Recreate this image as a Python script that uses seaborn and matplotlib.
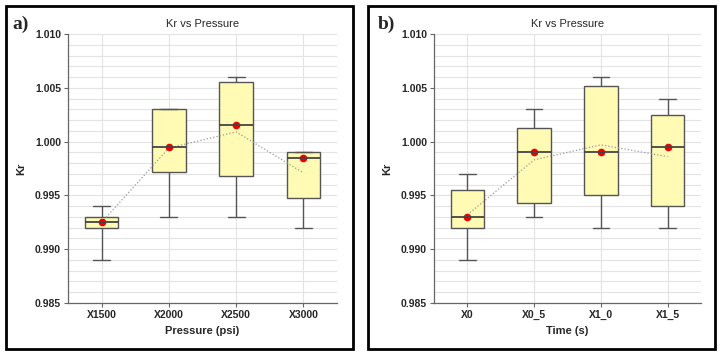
import pandas as pd
import seaborn as sns
import matplotlib.pyplot as plt
from matplotlib.patches import Rectangle

# Panel a) - pressure
pressure_cats = ['X1500', 'X2000', 'X2500', 'X3000']
pressure_lo = [0.989, 0.993, 0.993, 0.992]
pressure_q1 = [0.992, 0.9972, 0.9968, 0.9948]
pressure_med = [0.9925, 0.9995, 1.0015, 0.9985]
pressure_q3 = [0.993, 1.003, 1.0055, 0.999]
pressure_hi = [0.994, 1.003, 1.006, 0.999]
pressure_mean = [0.9925, 0.9994, 1.0009, 0.9971]

# Panel b) - time
time_cats = ['X0', 'X0_5', 'X1_0', 'X1_5']
time_lo = [0.989, 0.993, 0.992, 0.992]
time_q1 = [0.992, 0.9943, 0.995, 0.994]
time_med = [0.993, 0.999, 0.999, 0.9995]
time_q3 = [0.9955, 1.0013, 1.0052, 1.0025]
time_hi = [0.997, 1.003, 1.006, 1.004]
time_mean = [0.9932, 0.9983, 0.9997, 0.9986]

sns.set_style('white')
plt.rcParams['font.family'] = ['Liberation Sans', 'DejaVu Sans']

fig = plt.figure(figsize=(7.22, 3.55), dpi=100)


def five_num_frame(cats, lo, q1, med, q3, hi):
    # five-number summary per group; whis=(0, 100) maps them back exactly
    rows = []
    for i, c in enumerate(cats):
        for v in (lo[i], q1[i], med[i], q3[i], hi[i]):
            rows.append({'cat': c, 'Kr': v})
    return pd.DataFrame(rows)


def draw_panel(ax, cats, lo, q1, med, q3, hi, mean, xlabel, tag, tag_x):
    df = five_num_frame(cats, lo, q1, med, q3, hi)
    sns.boxplot(data=df, x='cat', y='Kr', order=cats, whis=(0, 100), width=0.5,
                color='#fffbb4', linecolor='#555555', linewidth=1.0,
                fliersize=0, saturation=1, ax=ax,
                capprops={'color': '#555555'}, medianprops={'color': '#444444', 'linewidth': 1.3})
    # means: dotted line, medians: red dots
    sns.pointplot(x=cats, y=mean, order=cats, color='#999999', linestyle=':',
                  linewidth=0.9, marker='', errorbar=None, ax=ax)
    sns.pointplot(x=cats, y=med, order=cats, color='#ee0000', linestyle='none',
                  marker='o', markersize=5.5, markeredgewidth=0,
                  markerfacecolor='#ee0000', errorbar=None, ax=ax)

    ax.set_ylim(0.985, 1.010)
    ax.set_xlim(-0.5, len(cats) - 0.5)
    ax.set_yticks([0.985, 0.990, 0.995, 1.000, 1.005, 1.010])
    ax.set_yticks([0.985 + 0.001 * k for k in range(26)], minor=True)
    ax.yaxis.set_major_formatter(plt.FormatStrFormatter('%.3f'))
    ax.grid(True, axis='y', which='both', color='#e3e3e3', linewidth=0.8)
    ax.grid(True, axis='x', which='major', color='#e3e3e3', linewidth=0.8)
    ax.set_axisbelow(True)
    for s in ('top', 'right'):
        ax.spines[s].set_visible(False)
    for s in ('left', 'bottom'):
        ax.spines[s].set_color('#666666')
        ax.spines[s].set_linewidth(0.9)
    ax.tick_params(axis='both', which='major', length=3, width=0.8, color='#666666',
                   labelsize=7.5, pad=2, bottom=True, left=True)
    ax.tick_params(axis='y', which='minor', length=0)
    for lab in ax.get_xticklabels() + ax.get_yticklabels():
        lab.set_fontweight('bold')
    ax.set_xlabel(xlabel, fontsize=8, fontweight='bold', labelpad=4)
    ax.set_ylabel('Kr', fontsize=8, fontweight='bold', labelpad=6)
    ax.set_title('Kr vs Pressure', fontsize=8, fontweight='medium', pad=5)
    fig.text(tag_x, 1 - 24 / 355, tag, fontsize=14, fontweight='bold',
             family='Liberation Serif', va='center', ha='left')


ax1 = fig.add_axes([68 / 722, 1 - 303 / 355, 269 / 722, 269 / 355])
ax2 = fig.add_axes([434 / 722, 1 - 303 / 355, 267 / 722, 269 / 355])

draw_panel(ax1, pressure_cats, pressure_lo, pressure_q1, pressure_med, pressure_q3,
           pressure_hi, pressure_mean, 'Pressure (psi)', 'a)', 12 / 722)
draw_panel(ax2, time_cats, time_lo, time_q1, time_med, time_q3,
           time_hi, time_mean, 'Time (s)', 'b)', 378 / 722)

# panel frames
for x0 in (6, 368):
    fig.patches.append(Rectangle((x0 / 722, 6 / 355), 347 / 722, 343 / 355,
                                 transform=fig.transFigure, fill=False,
                                 edgecolor='black', linewidth=2.0))

fig.savefig('out.png', dpi=100)
